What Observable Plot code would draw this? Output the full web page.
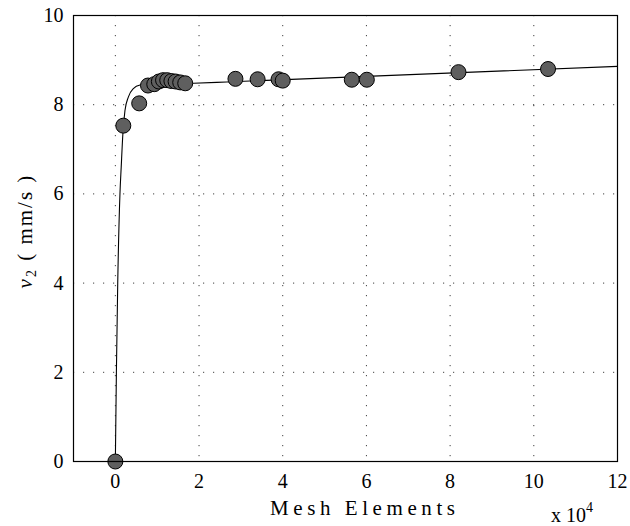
<!DOCTYPE html>
<html><head><meta charset="utf-8">
<script src="https://cdn.jsdelivr.net/npm/d3@7"></script>
<script src="https://cdn.jsdelivr.net/npm/@observablehq/plot@0.6"></script>
<style>body{margin:0;background:#fff}</style>
</head><body><div id="chart"></div>
<script>
// Mesh elements (x 10^4) and v2 (mm/s) for measured points
const meshElements = [0, 0.19, 0.57, 0.78, 0.93, 1.04, 1.14, 1.24, 1.34, 1.44, 1.55, 1.67, 2.87, 3.40, 3.90, 4.00, 5.65, 6.01, 8.20, 10.34];
const velocity     = [0, 7.53, 8.03, 8.43, 8.46, 8.52, 8.55, 8.55, 8.53, 8.52, 8.50, 8.48, 8.58, 8.57, 8.57, 8.54, 8.56, 8.56, 8.73, 8.80];
// Fitted curve
const fitX = [0, 0.025, 0.057, 0.11, 0.14, 0.18, 0.23, 0.31, 0.43, 0.59, 0.8, 1.87, 2.66, 12];
const fitY = [0, 2.0, 4.0, 6.0, 6.6, 7.35, 7.87, 8.17, 8.36, 8.44, 8.46, 8.48, 8.51, 8.86];
const xTicks = [0, 2, 4, 6, 8, 10, 12];
const yTicks = [0, 2, 4, 6, 8, 10];

const FONT = "Liberation Serif";
const points = meshElements.map((x, i) => ({x, y: velocity[i]}));
const fit = fitX.map((x, i) => ({x, y: fitY[i]}));
const grid = {stroke: "#000", strokeOpacity: 0.75, strokeDasharray: "1.2,8.8"};

const svg = Plot.plot({
  width: 630, height: 526,
  marginLeft: 73, marginRight: 13, marginTop: 15, marginBottom: 65,
  style: {fontFamily: FONT, fontSize: "20px", background: "#fff", color: "#000"},
  x: {domain: [-1, 12]},
  y: {domain: [0, 10]},
  marks: [
    Plot.ruleX(xTicks, {...grid}),
    Plot.ruleY(yTicks, {...grid}),
    Plot.line(fit, {x: "x", y: "y", stroke: "#000", strokeWidth: 1.1, curve: "monotone-x"}),
    Plot.dot(points, {x: "x", y: "y", r: 7.5, fill: "#5f5f5f", stroke: "#000", strokeWidth: 1}),
    Plot.frame({stroke: "#000", strokeWidth: 1.2}),
    Plot.axisX(xTicks, {tickSize: 0, tickPadding: 12, label: null, fontSize: 20}),
    Plot.axisY(yTicks, {tickSize: 0, tickPadding: 10, label: null, fontSize: 20})
  ]
});
document.getElementById("chart").appendChild(svg);

const s = d3.select(svg);
s.append("text")
  .attr("x", 362.5).attr("y", 515)
  .attr("text-anchor", "middle")
  .attr("font-size", 21)
  .attr("textLength", 185).attr("lengthAdjust", "spacing")
  .attr("fill", "#000")
  .text("Mesh Elements");

const ex = s.append("text")
  .attr("x", 572).attr("y", 522)
  .attr("font-size", 20)
  .attr("fill", "#000");
ex.append("tspan").text("x 10");
ex.append("tspan").attr("dy", -10).attr("font-size", 14).text("4");

const yl = s.append("text")
  .attr("transform", "translate(32,231) rotate(-90)")
  .attr("text-anchor", "middle")
  .attr("font-size", 21)
  .attr("fill", "#000")
  .attr("letter-spacing", 2);
yl.append("tspan").attr("font-style", "italic").text("v");
yl.append("tspan").attr("dy", 4).attr("font-size", 14).text("2");
yl.append("tspan").attr("dy", -4).text(" ( mm/s )");

// force the serif face on every text element
s.selectAll("g, text").attr("font-family", FONT);
s.selectAll("text").style("font-family", FONT);
</script>
</body></html>
